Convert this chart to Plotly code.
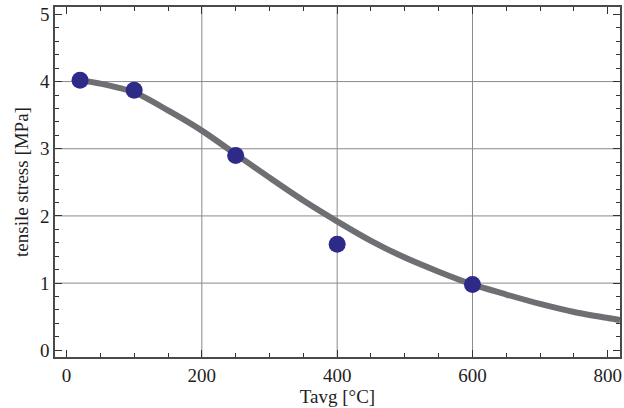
import plotly.graph_objects as go

# Measured tensile stress at average temperature
temp_c = [20, 100, 250, 400, 600]
stress_mpa = [4.02, 3.87, 2.90, 1.58, 0.98]

# Fitted trend curve, sampled along the temperature range
fit_temp = [20, 50, 100, 150, 200, 250, 300, 350, 400, 450, 500, 550, 600, 650, 700, 750, 800, 818]
fit_stress = [4.02, 3.97, 3.84, 3.57, 3.27, 2.92, 2.57, 2.23, 1.92, 1.63, 1.38, 1.17, 0.98, 0.83, 0.69, 0.57, 0.48, 0.45]

x_major, x_minor = 200, 50
y_major, y_minor = 1, 0.2
x_grid = [200, 400, 600]
y_grid = [1, 2, 3, 4]

X_RANGE = [-17, 818]
Y_RANGE = [-0.1, 5.11]

FONT = "Liberation Serif, Times New Roman, serif"
FRAME = "#4a4a4a"
TICK = "#333333"
GRID = "#8a8a8a"
TEXT = "#1e1e1e"

fig = go.Figure()

fig.add_trace(go.Scatter(
    x=fit_temp, y=fit_stress, mode="lines",
    line=dict(color="#6e6f73", width=6, shape="spline", smoothing=0.8),
    hoverinfo="skip", showlegend=False,
))
fig.add_trace(go.Scatter(
    x=temp_c, y=stress_mpa, mode="markers",
    marker=dict(color="#2e2a87", size=17, line=dict(width=0)),
    showlegend=False,
))

# grid lines only at the interior major ticks
for gx in x_grid:
    fig.add_shape(type="line", xref="x", yref="paper", x0=gx, x1=gx, y0=0, y1=1,
                  line=dict(color=GRID, width=1), opacity=1, layer="below")
for gy in y_grid:
    fig.add_shape(type="line", xref="paper", yref="y", x0=0, x1=1, y0=gy, y1=gy,
                  line=dict(color=GRID, width=1), opacity=1, layer="below")

axis_common = dict(
    showgrid=False, zeroline=False, showline=True, linecolor=FRAME, linewidth=1.5,
    mirror="allticks", ticks="inside", ticklen=7, tickwidth=1.3, tickcolor=TICK,
    tickfont=dict(family=FONT, size=19, color=TEXT),
)

fig.update_xaxes(
    **axis_common, range=X_RANGE, tick0=0, dtick=x_major,
    minor=dict(ticks="inside", ticklen=4, tickcolor=TICK, tickwidth=1.3, dtick=x_minor),
    title=dict(text="Tavg [°C]", font=dict(family=FONT, size=19, color=TEXT), standoff=4),
)
fig.update_yaxes(
    **axis_common, range=Y_RANGE, tick0=0, dtick=y_major,
    minor=dict(ticks="inside", ticklen=4, tickcolor=TICK, tickwidth=1.3, dtick=y_minor),
    title=dict(text="tensile stress [MPa]", font=dict(family=FONT, size=19, color=TEXT), standoff=6),
)

fig.update_layout(
    template="simple_white",
    width=624, height=408,
    margin=dict(l=55, r=2, t=7, b=51),
    paper_bgcolor="white", plot_bgcolor="white",
)

fig.write_html("out.html")
